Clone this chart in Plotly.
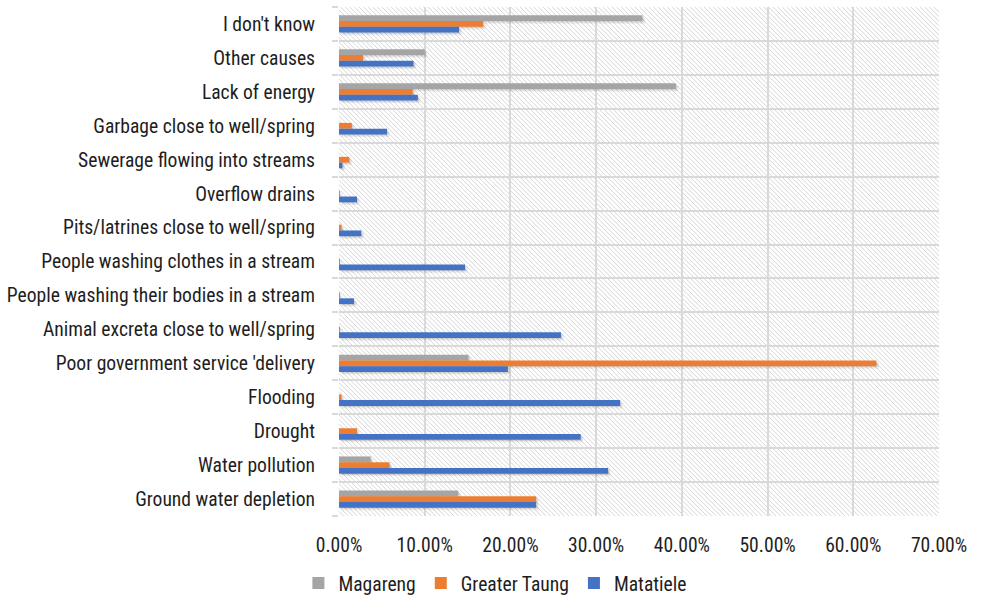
import plotly.graph_objects as go

# Perceived causes of water problems, share of respondents per municipality
causes = [
    "Ground water depletion",
    "Water pollution",
    "Drought",
    "Flooding",
    "Poor government service 'delivery",
    "Animal excreta close to well/spring",
    "People washing their bodies in a stream",
    "People washing clothes in a stream",
    "Pits/latrines close to well/spring",
    "Overflow drains",
    "Sewerage flowing into streams",
    "Garbage close to well/spring",
    "Lack of energy",
    "Other causes",
    "I don't know",
]
magareng = [0.139, 0.037, 0.0, 0.0, 0.151, 0.0, 0.0, 0.0, 0.0, 0.0, 0.0, 0.0, 0.393, 0.100, 0.354]
greater_taung = [0.230, 0.059, 0.021, 0.003, 0.627, 0.001, 0.001, 0.001, 0.003, 0.001, 0.012, 0.015, 0.086, 0.028, 0.168]
matatiele = [0.230, 0.314, 0.282, 0.328, 0.197, 0.259, 0.0175, 0.147, 0.026, 0.021, 0.004, 0.056, 0.092, 0.087, 0.140]

x_ticks = [0.0, 0.1, 0.2, 0.3, 0.4, 0.5, 0.6, 0.7]

series = [
    ("Magareng", magareng, "#a5a5a5"),
    ("Greater Taung", greater_taung, "#ed7d31"),
    ("Matatiele", matatiele, "#4472c4"),
]

FONT = "Roboto Condensed, Arial Narrow, sans-serif"
FSIZE = 19.6
TXT = "#1e1e1e"
BAR_W = 0.17
offsets = [BAR_W * 0.5, -BAR_W * 0.5, -BAR_W * 1.5]

fig = go.Figure()

# soft drop shadows beneath each bar
for (name, vals, color), off in zip(series, offsets):
    for dy, dx, alpha in [(0.035, 0.0015, 0.10), (0.075, 0.003, 0.07)]:
        fig.add_trace(go.Bar(
            y=causes, x=vals, orientation="h",
            base=[dx] * len(vals),
            width=BAR_W, offset=off - dy,
            marker=dict(color=f"rgba(0,0,0,{alpha})", line=dict(width=0)),
            showlegend=False, hoverinfo="skip",
        ))

for (name, vals, color), off in zip(series, offsets):
    fig.add_trace(go.Bar(
        y=causes, x=vals, orientation="h", name=name,
        width=BAR_W, offset=off,
        marker=dict(color=color, line=dict(width=0)),
    ))

# diagonal hatch fill of the plotting area
W, H = 600, 509
step = 4.6
parts = []
c = -H
while c < W:
    y0 = max(0.0, -c)
    y1 = min(float(H), W - c)
    if y1 > y0:
        parts.append(
            f"M{(y0 + c) / W:.5f},{1 - y0 / H:.5f}L{(y1 + c) / W:.5f},{1 - y1 / H:.5f}"
        )
    c += step
fig.add_shape(
    type="path", path="".join(parts), xref="paper", yref="paper",
    line=dict(color="#d6d6d6", width=1), layer="below",
)

fig.update_layout(
    width=981, height=600,
    margin=dict(l=339, r=42, t=7, b=84),
    barmode="overlay",
    paper_bgcolor="white", plot_bgcolor="white",
    font=dict(family=FONT, size=FSIZE, color=TXT),
    xaxis=dict(
        range=[0, 0.7], tickvals=x_ticks, tickformat=".2%",
        showgrid=True, gridcolor="#d9d9d9", gridwidth=2,
        zeroline=False, showline=False, ticks="",
        ticklabelstandoff=15, automargin=False,
        tickfont=dict(family=FONT, size=FSIZE, color=TXT),
        fixedrange=True,
    ),
    yaxis=dict(
        type="category", categoryorder="array", categoryarray=causes,
        tickson="boundaries", ticks="outside", ticklen=6, tickcolor="#d9d9d9",
        tickwidth=2,
        showgrid=True, gridcolor="#d9d9d9", gridwidth=2,
        showline=False, zeroline=False,
        ticklabelstandoff=23, automargin=False,
        tickfont=dict(family=FONT, size=FSIZE, color=TXT),
        range=[-0.5, len(causes) - 0.5],
        fixedrange=True,
    ),
    legend=dict(
        orientation="h", xref="container", yref="container",
        x=0.505, y=0.028, xanchor="center", yanchor="middle",
        font=dict(family=FONT, size=FSIZE, color=TXT),
        itemwidth=30,
        itemclick=False, itemdoubleclick=False,
    ),
    showlegend=True,
)

fig.write_html("out.html")
